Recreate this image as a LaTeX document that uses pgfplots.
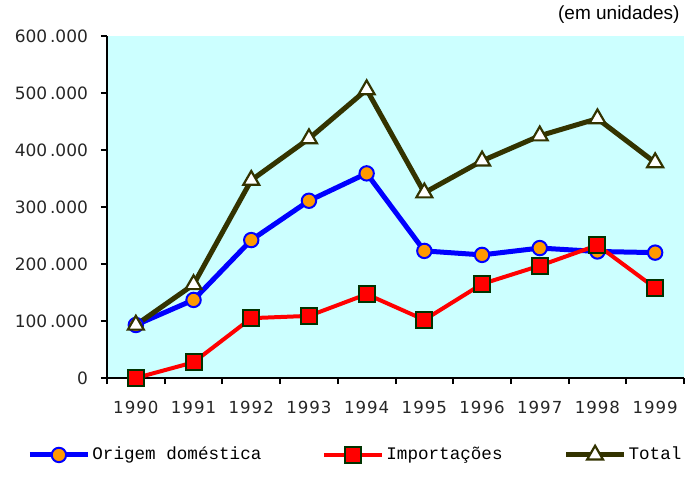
\documentclass[border=0pt]{standalone}
\usepackage{pgfplots}
\pgfplotsset{compat=1.18}
\usepackage{fontspec}
\setmainfont{DejaVu Sans}
\newfontfamily\legfont{Liberation Mono}
\newfontfamily\unitfont{Liberation Sans}
\definecolor{cyanbg}{RGB}{204,255,255}
\definecolor{orangemk}{RGB}{255,153,0}
\definecolor{olive}{RGB}{51,51,0}
\definecolor{dkgreen}{RGB}{0,51,0}
\begin{document}
\begin{tikzpicture}
\useasboundingbox (-53.5pt,-58.5pt) rectangle (291.5pt,189pt);
\begin{axis}[
  scale only axis,
  width=288.5pt, height=171pt,
  xmin=-0.5, xmax=9.5,
  ymin=0, ymax=600000,
  scaled y ticks=false,
  axis background/.style={fill=cyanbg},
  axis x line*=bottom, axis y line*=left,
  axis line style={-, line width=1pt, black},
  xtick={-0.5,0.5,...,9.5},
  xticklabels={1990,1991,1992,1993,1994,1995,1996,1997,1998,1999},
  x tick label as interval,
  ytick={0,100000,200000,300000,400000,500000,600000},
  yticklabels={0,100{\,}.000,200{\,}.000,300{\,}.000,400{\,}.000,500{\,}.000,600{\,}.000},
  tick align=outside,
  major tick length=3pt,
  tick style={line width=1pt, black},
  ticklabel style={font=\fontsize{8.5}{10}\selectfont, text=black!85},
  xticklabel style={yshift=-5pt, font=\fontsize{8.3}{9.6}\selectfont\addfontfeatures{LetterSpace=6}},
  yticklabel style={xshift=-3pt},
  /pgf/number format/assume math mode=true,
  clip=false,
  legend columns=3,
  legend style={draw=none, fill=none, at={(rel axis cs:-0.149,-0.225)}, anchor=west,
    font=\legfont\fontsize{8.8}{10.5}\selectfont,
    nodes={inner xsep=1pt},
    /tikz/every even column/.append style={column sep=29.5pt}},
  legend image code/.code={\draw[#1, mark=none] (0pt,0pt) -- (29pt,0pt);
    \draw[#1] plot coordinates {(14.5pt,0pt)};},
]
\addplot[blue, line width=2.5pt, mark=*, mark size=3.6pt,
  mark options={fill=orangemk, draw=blue, line width=1pt, solid}]
  coordinates {(0,93000) (1,137000) (2,242000) (3,311000) (4,359000) (5,223000) (6,216000) (7,228000) (8,222000) (9,220000)};
\addlegendentry{Origem doméstica}
\addplot[red, line width=2pt, mark=square*, mark size=4pt,
  mark options={fill=red, draw=dkgreen, line width=1pt, solid}]
  coordinates {(0,0) (1,27500) (2,105000) (3,109000) (4,147000) (5,102000) (6,165000) (7,197000) (8,233000) (9,158000)};
\addlegendentry{Importações}
\addplot[olive, line width=2.5pt, mark=triangle*, mark size=4.6pt,
  mark options={fill=white, draw=olive, line width=1.1pt, solid}]
  coordinates {(0,93000) (1,164000) (2,347000) (3,420000) (4,506000) (5,325000) (6,381000) (7,425000) (8,455000) (9,378000)};
\addlegendentry{Total}
\node[anchor=south east, font=\unitfont\fontsize{9.5}{11}\selectfont, inner sep=0pt] at (rel axis cs:1,1) [xshift=-2pt, yshift=6pt] {(em unidades)};
\end{axis}
\end{tikzpicture}
\end{document}
